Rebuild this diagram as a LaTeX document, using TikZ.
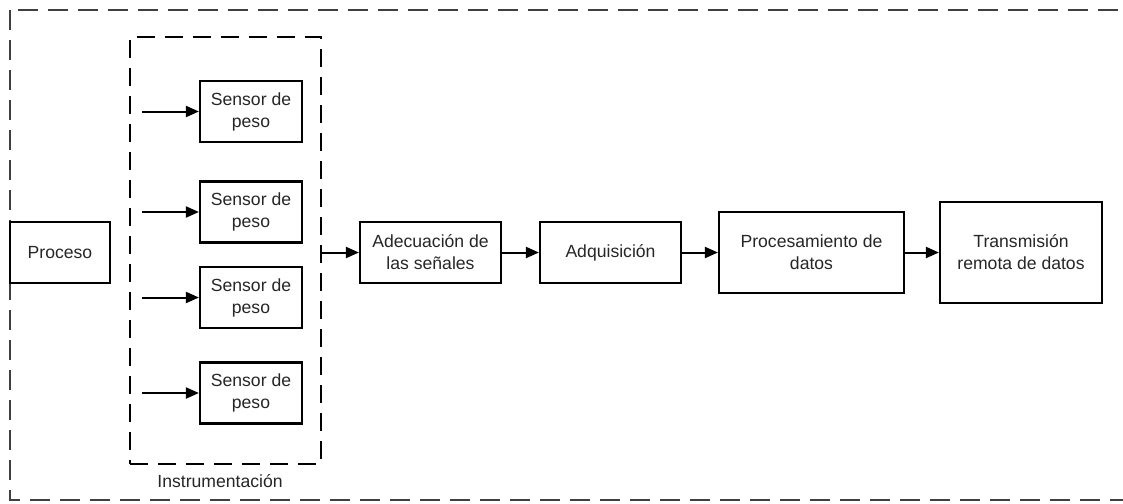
\documentclass[tikz,border=0pt]{standalone}
\usepackage{fontspec}
\setmainfont{Liberation Sans}
\usetikzlibrary{arrows.meta}
\usetikzlibrary{positioning}

\begin{document}
\begin{tikzpicture}[x=0.5pt, y=-0.5pt,
  texto/.style={font=\fontsize{8.8}{11}\selectfont, text=black!85},
  bloque/.style={texto, draw, line width=1.1pt, align=center, inner sep=0pt},
  flecha/.style={line width=1pt, -{Triangle[length=6.5pt,width=5.5pt]}},
  marco/.style={draw, line width=1.1pt, dash pattern=on 10pt off 5pt}]

  \clip (0,0) rectangle (1123,503);
  \useasboundingbox (0,0) rectangle (1123,503);

  % marco general
  \draw[marco, black!75] (10,10) rectangle (1124,500);

  \node[bloque, minimum width=50pt, minimum height=30.5pt] (proceso) at (60,252.5) {Proceso};

  % instrumentacion
  \node[draw, line width=1.1pt, dash pattern=on 9pt off 5pt, minimum width=95.5pt, minimum height=213.5pt] (instr) at (225.5,250.5) {};
  \node[texto] (instrlabel) at (220,481) {Instrumentación};

  \foreach \i/\y in {1/111.5, 2/212, 3/297.5, 4/393} {
    \node[bloque, minimum width=51pt, minimum height=30.5pt] (s\i) at (251,\y) {Sensor de\\peso};
    \coordinate (e\i) at (142,\y);
    \draw[flecha] (e\i) -- (s\i);
  }

  \node[bloque, minimum width=70.5pt, minimum height=30.5pt] (adec) at (430.5,252.5) {Adecuación de\\las señales};
  \node[bloque, minimum width=70.5pt, minimum height=30.5pt] (adq) at (610.5,252.5) {Adquisición};
  \node[bloque, minimum width=92.5pt, minimum height=40.5pt] (proc) at (811.5,252.5) {Procesamiento de\\datos};
  \node[bloque, minimum width=81pt, minimum height=50.5pt] (trans) at (1021,252.5) {Transmisión\\remota de datos};

  \draw[flecha] (instr.east |- adec.west) -- (adec);
  \draw[flecha] (adec) -- (adq);
  \draw[flecha] (adq) -- (proc);
  \draw[flecha] (proc) -- (trans);

\end{tikzpicture}
\end{document}
